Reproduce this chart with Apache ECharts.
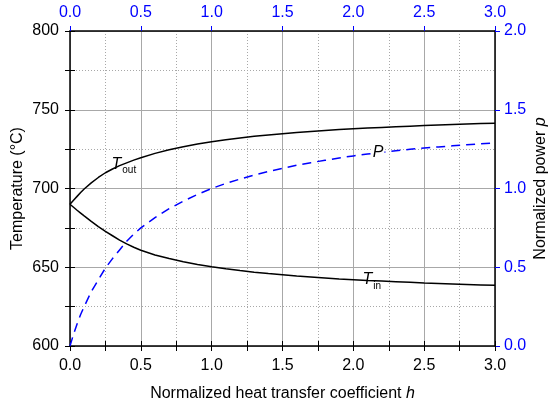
<!DOCTYPE html>
<html><head><meta charset="utf-8">
<script src="https://cdn.jsdelivr.net/npm/echarts@6/dist/echarts.min.js"></script>
<style>html,body{margin:0;padding:0;background:#fff}#c{width:550px;height:405px}</style>
</head><body><div id="c"></div>
<script>
const hValues = [0,0.025,0.05,0.075,0.1,0.15,0.2,0.25,0.3,0.35,0.4,0.45,0.5,0.6,0.7,0.8,0.9,1.0,1.1,1.2,1.3,1.4,1.5,1.6,1.7,1.8,1.9,2.0,2.1,2.2,2.3,2.4,2.5,2.6,2.7,2.8,2.9,3.0];
const tOut = [690,692.6,695.0,697.4,699.7,703.6,707.0,710.0,712.4,714.5,716.3,718.0,719.5,722.3,724.6,726.5,728.2,729.7,731.0,732.1,733.1,734.0,734.8,735.6,736.2,736.8,737.4,737.9,738.4,738.8,739.2,739.6,740.0,740.3,740.6,740.9,741.2,741.5];
const tIn = [690,688.1,686.2,684.4,682.6,679.1,675.8,672.8,670.0,667.2,664.8,662.7,660.8,657.8,655.5,653.5,651.8,650.3,649.0,647.9,646.9,646.0,645.2,644.4,643.8,643.2,642.6,642.1,641.6,641.2,640.8,640.4,640.0,639.7,639.4,639.1,638.8,638.5];
const power = [0,0.075,0.14,0.20,0.25,0.345,0.42,0.495,0.555,0.61,0.665,0.71,0.75,0.815,0.872,0.92,0.962,1.0,1.032,1.06,1.086,1.108,1.128,1.148,1.164,1.179,1.194,1.207,1.219,1.229,1.239,1.249,1.257,1.264,1.271,1.278,1.284,1.29];
const xLabel = 'Normalized heat transfer coefficient ';
const yLeftLabel = 'Temperature (°C)';
const yRightLabel = 'Normalized power ';
const labelTout = [0.38, 715.5];
const labelTin = [2.13, 642.0];
const labelP = [2.175, 1.226];

const FONT = 'Arial, "Liberation Sans", sans-serif';
const BLUE = '#0000ff';
const grey = '#a8a8a8';
const pair = (ys) => hValues.map((h, i) => [h, ys[i]]);

function mk(coord, main, sub) {
  return {
    symbol: 'rect', symbolSize: 1, itemStyle: {color: 'rgba(0,0,0,0)'},
    data: [{coord: coord}],
    label: {
      show: true, position: 'inside', backgroundColor: '#fff', padding: [0, 1, 0, 1],
      formatter: sub ? '{t|' + main + '}{s|' + sub + '}' : '{t|' + main + '}',
      rich: {
        t: {fontFamily: FONT, fontSize: 16, fontStyle: 'italic', color: '#000', lineHeight: 18},
        s: {fontFamily: FONT, fontSize: 10, color: '#000', padding: [12, 0, 0, 1], lineHeight: 18}
      }
    }
  };
}

const chart = echarts.init(document.getElementById('c'), null, {renderer: 'canvas'});
chart.setOption({
  animation: false,
  backgroundColor: '#fff',
  grid: {left: 70, right: 55, top: 31, bottom: 59, containLabel: false, outerBoundsMode: 'none'},
  xAxis: [
    {type: 'value', position: 'bottom', min: 0, max: 3, interval: 0.5,
     name: xLabel + '{i|h}', nameLocation: 'middle', nameGap: 40, nameMoveOverlap: false,
     nameTextStyle: {fontFamily: FONT, fontSize: 16, color: '#000', rich: {i: {fontFamily: FONT, fontSize: 16, fontStyle: 'italic', color: '#000'}}},
     axisLine: {show: true, onZero: false, lineStyle: {color: '#000', width: 1.5}},
     axisTick: {show: true, inside: true, length: 5, lineStyle: {color: '#000'}},
     minorTick: {show: true, splitNumber: 2, length: 5, lineStyle: {color: '#000'}},
     axisLabel: {fontFamily: FONT, fontSize: 16, color: '#000', margin: 12, formatter: v => v.toFixed(1)},
     splitLine: {show: true, lineStyle: {color: grey, width: 1}},
     minorSplitLine: {show: true, lineStyle: {color: grey, width: 1, type: [1, 2]}}},
    {type: 'value', position: 'top', min: 0, max: 3, interval: 0.5,
     axisLine: {show: true, onZero: false, lineStyle: {color: '#000', width: 1.5}},
     axisTick: {show: true, inside: false, length: 5, lineStyle: {color: BLUE}},
     axisLabel: {fontFamily: FONT, fontSize: 16, color: BLUE, margin: 10, formatter: v => v.toFixed(1)},
     splitLine: {show: false}},
    {type: 'value', position: 'top', min: 0, max: 3, interval: 0.25,
     axisLine: {show: false}, axisLabel: {show: false},
     axisTick: {show: true, inside: true, length: 5, lineStyle: {color: '#000'}},
     splitLine: {show: false}}
  ],
  yAxis: [
    {type: 'value', position: 'left', min: 600, max: 800, interval: 50,
     name: yLeftLabel, nameLocation: 'middle', nameGap: 44, nameRotate: 90, nameMoveOverlap: false,
     nameTextStyle: {fontFamily: FONT, fontSize: 16, color: '#000'},
     axisLine: {show: true, onZero: false, lineStyle: {color: '#000', width: 1.5}},
     axisTick: {show: true, inside: false, length: 5, lineStyle: {color: '#000'}},
     axisLabel: {fontFamily: FONT, fontSize: 16, color: '#000', margin: 11},
     splitLine: {show: true, lineStyle: {color: grey, width: 1}}},
    {type: 'value', position: 'right', min: 0, max: 2, interval: 0.5,
     name: yRightLabel + '{i|p}', nameLocation: 'middle', nameGap: 38, nameRotate: 90, nameMoveOverlap: false,
     nameTextStyle: {fontFamily: FONT, fontSize: 16, color: '#000', rich: {i: {fontFamily: FONT, fontSize: 16, fontStyle: 'italic', color: '#000'}}},
     axisLine: {show: true, onZero: false, lineStyle: {color: '#000', width: 1.5}},
     axisTick: {show: true, inside: false, length: 5, lineStyle: {color: BLUE}},
     axisLabel: {fontFamily: FONT, fontSize: 16, color: BLUE, margin: 9, formatter: v => v.toFixed(1)},
     splitLine: {show: false}},
    {type: 'value', position: 'left', min: 600, max: 800, interval: 25,
     axisLine: {show: false}, axisLabel: {show: false},
     axisTick: {show: true, inside: true, length: 5, lineStyle: {color: '#000'}},
     splitLine: {show: true, lineStyle: {color: grey, width: 1, type: [1, 2]}}},
    {type: 'value', position: 'right', min: 0, max: 2, interval: 0.25,
     axisLine: {show: false}, axisLabel: {show: false},
     axisTick: {show: true, inside: true, length: 5, lineStyle: {color: '#000'}},
     splitLine: {show: false}}
  ],
  series: [
    {type: 'line', name: 'Tout', xAxisIndex: 0, yAxisIndex: 0, data: pair(tOut), smooth: false,
     showSymbol: false, lineStyle: {color: '#000', width: 1.5}, z: 5,
     markPoint: mk(labelTout, 'T', 'out')},
    {type: 'line', name: 'Tin', xAxisIndex: 0, yAxisIndex: 0, data: pair(tIn), smooth: false,
     showSymbol: false, lineStyle: {color: '#000', width: 1.5}, z: 5,
     markPoint: mk(labelTin, 'T', 'in')},
    {type: 'line', name: 'P', xAxisIndex: 0, yAxisIndex: 1, data: pair(power), smooth: false,
     showSymbol: false, lineStyle: {color: BLUE, width: 1.5, type: [9, 6]}, z: 4,
     markPoint: mk(labelP, 'P', null)}
  ]
});
</script></body></html>
